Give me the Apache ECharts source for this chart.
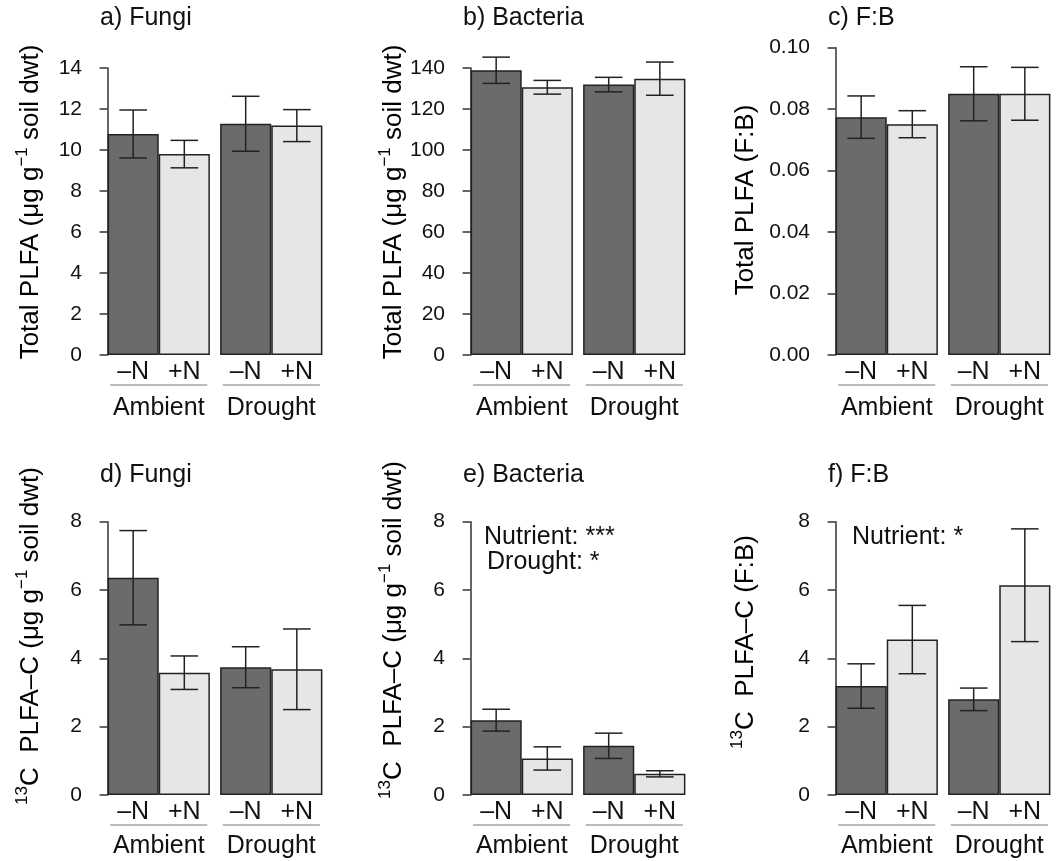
<!DOCTYPE html>
<html>
<head>
<meta charset="utf-8">
<script src="https://cdn.jsdelivr.net/npm/echarts@6/dist/echarts.min.js"></script>
<style>
  html, body { margin: 0; padding: 0; background: #fff; }
  #chart { width: 1056px; height: 861px; }
</style>
</head>
<body>
<div id="chart"></div>
<script>
// categories
const nutrient = ['–N', '+N', '–N', '+N'];
const treatments = ['Ambient', 'Drought'];
// bar centres on the x scale (bar width = 1, small gap between treatments)
const barX = [0.5, 1.5, 2.7, 3.7];
const groupSpan = [[0.05, 1.95], [2.25, 4.15]];

// total PLFA, means and standard errors (order: Amb -N, Amb +N, Dro -N, Dro +N)
const fungiTotal = [10.78, 9.80, 11.28, 11.19];
const fungiTotalSe = [1.17, 0.67, 1.34, 0.78];
const bactTotal = [138.9, 130.6, 131.9, 134.8];
const bactTotalSe = [6.4, 3.35, 3.55, 8.1];
const fbTotal = [0.0774, 0.0751, 0.0850, 0.0850];
const fbTotalSe = [0.0069, 0.0044, 0.0088, 0.0086];

// 13C PLFA-C
const fungi13C = [6.36, 3.58, 3.74, 3.68];
const fungi13CSe = [1.38, 0.49, 0.60, 1.18];
const bact13C = [2.19, 1.07, 1.44, 0.62];
const bact13CSe = [0.32, 0.34, 0.37, 0.09];
const fb13C = [3.19, 4.55, 2.80, 6.14];
const fb13CSe = [0.65, 1.00, 0.33, 1.65];

// y axis ranges
const yMaxTop = [14, 140, 0.10];
const yStepTop = [2, 20, 0.02];
const yMaxBottom = [8, 8, 8];
const yStepBottom = [2, 2, 2];

const FONT = 'Liberation Sans, Arial, Helvetica, sans-serif';
const DARK = '#6b6b6b';
const LIGHT = '#e6e6e6';
const INK = '#222';

const X_MIN = -0.168, X_MAX = 4.368;
const GRID_W = 232;
const BAR_PX = GRID_W / (X_MAX - X_MIN);
const colLeft = [99, 462, 827];

const panels = [
  { title: 'a) Fungi', mean: fungiTotal, se: fungiTotalSe, max: yMaxTop[0], step: yStepTop[0], col: 0, top: 68, bottom: 355, dec: 0 },
  { title: 'b) Bacteria', mean: bactTotal, se: bactTotalSe, max: yMaxTop[1], step: yStepTop[1], col: 1, top: 68, bottom: 355, dec: 0 },
  { title: 'c) F:B', mean: fbTotal, se: fbTotalSe, max: yMaxTop[2], step: yStepTop[2], col: 2, top: 47.7, bottom: 355, dec: 2 },
  { title: 'd) Fungi', mean: fungi13C, se: fungi13CSe, max: yMaxBottom[0], step: yStepBottom[0], col: 0, top: 521.7, bottom: 795, dec: 0 },
  { title: 'e) Bacteria', mean: bact13C, se: bact13CSe, max: yMaxBottom[1], step: yStepBottom[1], col: 1, top: 521.7, bottom: 795, dec: 0 },
  { title: 'f) F:B', mean: fb13C, se: fb13CSe, max: yMaxBottom[2], step: yStepBottom[2], col: 2, top: 521.7, bottom: 795, dec: 0 }
];

function renderErr(params, api) {
  const x = api.value(0);
  const hi = api.coord([x, api.value(2)]);
  const lo = api.coord([x, api.value(1)]);
  const half = api.size([0.54, 0])[0] / 2;
  const style = { stroke: INK, lineWidth: 1.5 };
  return {
    type: 'group',
    children: [
      { type: 'line', shape: { x1: hi[0], y1: hi[1], x2: lo[0], y2: lo[1] }, style },
      { type: 'line', shape: { x1: hi[0] - half, y1: hi[1], x2: hi[0] + half, y2: hi[1] }, style },
      { type: 'line', shape: { x1: lo[0] - half, y1: lo[1], x2: lo[0] + half, y2: lo[1] }, style }
    ]
  };
}

function renderGroupLine(params, api) {
  const a = api.coord([api.value(0), 0]);
  const b = api.coord([api.value(1), 0]);
  return {
    type: 'line',
    shape: { x1: a[0], y1: a[1] + 30, x2: b[0], y2: b[1] + 30 },
    style: { stroke: '#777', lineWidth: 1 }
  };
}

const grid = [], xAxis = [], yAxis = [], series = [];
panels.forEach((p, i) => {
  grid.push({ left: colLeft[p.col], width: GRID_W, top: p.top, height: p.bottom - p.top, outerBoundsMode: 'none' });
  const isTop = i < 3;
  xAxis.push({
    type: 'value', gridIndex: i, min: X_MIN, max: X_MAX, position: 'bottom',
    axisLine: { show: false }, axisTick: { show: false }, splitLine: { show: false },
    axisLabel: {
      customValues: barX, margin: 5, fontSize: 25, color: '#111', fontFamily: FONT,
      formatter: v => nutrient[barX.findIndex(b => Math.abs(b - v) < 1e-6)]
    }
  });
  const groupX = groupSpan.map(g => (g[0] + g[1]) / 2);
  xAxis.push({
    type: 'value', gridIndex: i, min: X_MIN, max: X_MAX, position: 'bottom',
    axisLine: { show: false }, axisTick: { show: false }, splitLine: { show: false },
    axisLabel: {
      customValues: groupX, margin: isTop ? 41 : 39, fontSize: 25, color: '#111', fontFamily: FONT,
      formatter: v => treatments[groupX.findIndex(b => Math.abs(b - v) < 1e-6)]
    }
  });
  yAxis.push({
    type: 'value', gridIndex: i, min: 0, max: p.max, interval: p.step,
    axisLine: { show: true, lineStyle: { color: '#333', width: 1.5 } },
    axisTick: { show: true, length: 8, lineStyle: { color: '#333', width: 1.5 } },
    splitLine: { show: false },
    axisLabel: {
      margin: 17, fontSize: 21, color: '#111', fontFamily: FONT,
      formatter: v => v.toFixed(p.dec)
    }
  });
  const barStyle = c => ({ color: c, borderColor: INK, borderWidth: 1.5 });
  series.push({
    type: 'bar', xAxisIndex: 2 * i, yAxisIndex: i, barWidth: BAR_PX, barGap: '-100%',
    itemStyle: barStyle(DARK), silent: true,
    data: [[barX[0], p.mean[0]], [barX[2], p.mean[2]]]
  });
  series.push({
    type: 'bar', xAxisIndex: 2 * i, yAxisIndex: i, barWidth: BAR_PX, barGap: '-100%',
    itemStyle: barStyle(LIGHT), silent: true,
    data: [[barX[1], p.mean[1]], [barX[3], p.mean[3]]]
  });
  series.push({
    type: 'custom', xAxisIndex: 2 * i, yAxisIndex: i, z: 5, clip: false, silent: true,
    renderItem: renderErr,
    data: barX.map((x, k) => [x, p.mean[k] - p.se[k], p.mean[k] + p.se[k]])
  });
  series.push({
    type: 'custom', xAxisIndex: 2 * i, yAxisIndex: i, z: 5, clip: false, silent: true,
    renderItem: renderGroupLine,
    data: groupSpan
  });
});

const txt = (text, x, y, size) => ({
  type: 'text', x, y, silent: true,
  style: { text, font: size + 'px ' + FONT, fill: '#111', textAlign: 'left', textVerticalAlign: 'middle' }
});

const supRich = {
  a: { fontSize: 26, fontFamily: FONT, color: '#111' },
  s: { fontSize: 17, fontFamily: FONT, color: '#111', padding: [0, 0, 17, 0] }
};
const yName = (text, x, y) => ({
  type: 'text', x, y, rotation: Math.PI / 2, silent: true,
  style: { text, rich: supRich, textAlign: 'center', textVerticalAlign: 'middle' }
});

const graphic = [
  ...panels.map((p, i) => txt(p.title, colLeft[p.col] + 1, i < 3 ? 18 : 475, 25)),
  yName('{a|Total PLFA (μg g}{s|−1}{a| soil dwt)}', 31, 202),
  yName('{a|Total PLFA (μg g}{s|−1}{a| soil dwt)}', 394, 202),
  yName('{a|Total PLFA (F:B)}', 746, 200),
  yName('{s|13}{a|C  PLFA–C (μg g}{s|−1}{a| soil dwt)}', 31, 636),
  yName('{s|13}{a|C  PLFA–C (μg g}{s|−1}{a| soil dwt)}', 394, 630),
  yName('{s|13}{a|C  PLFA–C (F:B)}', 746, 642),
  txt('Nutrient: ***', 484, 537, 25),
  txt('Drought: *', 487, 562, 25),
  txt('Nutrient: *', 852, 537, 25)
];

const chart = echarts.init(document.getElementById('chart'), null, { renderer: 'canvas' });
chart.setOption({
  animation: false,
  backgroundColor: '#fff',
  textStyle: { fontFamily: FONT },
  grid, xAxis, yAxis, series, graphic
});
</script>
</body>
</html>
